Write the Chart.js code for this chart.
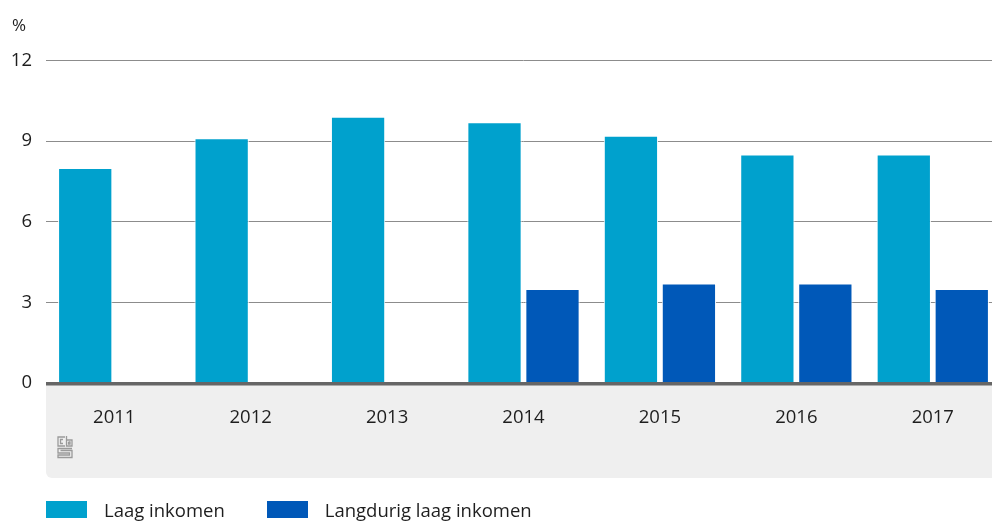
<!DOCTYPE html>
<html>
<head>
<meta charset="utf-8">
<script src="https://cdn.jsdelivr.net/npm/chart.js@4"></script>
<style>
    html, body { margin: 0; padding: 0; background: #fff; overflow: hidden; }
    #wrap { position: relative; width: 1002px; height: 521px; }
    #legend { position: absolute; left: 46px; top: 501px; display: flex; font: 18.5px "Open Sans", sans-serif; color: #1e1e1e; }
    #legend .item { display: flex; align-items: center; margin-right: 42px; }
    #legend .box { width: 41px; height: 17px; margin-right: 17px; }
    #legend span.txt { line-height: 17px; }
</style>
</head>
<body>
<div id="wrap">
    <canvas id="chart" width="1002" height="521"></canvas>
    <div id="legend"></div>
</div>
<script>
const years = ["2011", "2012", "2013", "2014", "2015", "2016", "2017"];
const laagInkomen = [8.0, 9.1, 9.9, 9.7, 9.2, 8.5, 8.5];
const langdurigLaagInkomen = [null, null, null, 3.5, 3.7, 3.7, 3.5];
const seriesNames = ["Laag inkomen", "Langdurig laag inkomen"];
const seriesColors = ["#00a1cd", "#0058b8"];
const yTicks = [0, 3, 6, 9, 12];

const fontFamily = '"Open Sans", sans-serif';
const fontSize = 18.5;

// small cbs mark, drawn as line paths relative to its top-left corner
function drawLogo(ctx, x, y) {
    const paths = [
        [[8, 1], [1, 1], [1, 10], [8, 10]],
        [[6, 3.5], [3.5, 3.5], [3.5, 7.5], [6, 7.5]],
        [[9.5, 0], [9.5, 10], [15, 10], [15, 4], [9.5, 4]],
        [[11.5, 6], [13, 6], [13, 8], [11.5, 8], [11.5, 6]],
        [[15, 12.5], [1, 12.5], [1, 17], [12.5, 17], [12.5, 19], [1, 19], [1, 21.5], [15, 21.5], [15, 14.5], [3.5, 14.5]]
    ];
    ctx.save();
    ctx.strokeStyle = "#9a9a9a";
    ctx.lineWidth = 1.3;
    paths.forEach(p => {
        ctx.beginPath();
        p.forEach((pt, i) => {
            if (i === 0) ctx.moveTo(x + pt[0], y + pt[1]);
            else ctx.lineTo(x + pt[0], y + pt[1]);
        });
        ctx.stroke();
    });
    ctx.restore();
}

// grey band under the x axis and the dark zero line
const bandPlugin = {
    id: "band",
    beforeDraw(chart) {
        const ctx = chart.ctx;
        const area = chart.chartArea;
        const xScale = chart.scales.x;
        ctx.save();
        ctx.fillStyle = "#efefef";
        ctx.beginPath();
        ctx.roundRect(area.left, area.bottom, chart.width - area.left, xScale.bottom - area.bottom + 1, [0, 0, 0, 6]);
        ctx.fill();
        ctx.restore();
        drawLogo(ctx, area.left + 11, area.bottom + 53);
    },
    afterDatasetsDraw(chart) {
        const ctx = chart.ctx;
        const area = chart.chartArea;
        const y0 = chart.scales.y.getPixelForValue(0);
        ctx.save();
        ctx.fillStyle = "#666666";
        ctx.fillRect(area.left, y0 - 1, chart.width - area.left, 3.5);
        ctx.restore();
    }
};

const ctx = document.getElementById("chart").getContext("2d");

new Chart(ctx, {
    type: "bar",
    data: {
        labels: years,
        datasets: [
            {
                label: seriesNames[0],
                data: laagInkomen,
                backgroundColor: seriesColors[0],
                borderColor: "#ffffff",
                borderWidth: 1,
                borderSkipped: "start"
            },
            {
                label: seriesNames[1],
                data: langdurigLaagInkomen,
                backgroundColor: seriesColors[1],
                borderColor: "#ffffff",
                borderWidth: 1,
                borderSkipped: "start"
            }
        ]
    },
    options: {
        responsive: false,
        animation: false,
        layout: { padding: { left: 12, right: 1, bottom: 44, top: 0 } },
        datasets: {
            bar: { categoryPercentage: 0.85, barPercentage: 0.936 }
        },
        plugins: {
            legend: { display: false },
            tooltip: { enabled: false },
            title: {
                display: true,
                text: "%",
                align: "start",
                color: "#1e1e1e",
                font: { family: fontFamily, size: 17, weight: "normal" },
                padding: { top: 16, bottom: 24 }
            }
        },
        scales: {
            x: {
                grid: { display: false, drawTicks: false },
                border: { display: false },
                ticks: {
                    color: "#1e1e1e",
                    font: { family: fontFamily, size: fontSize },
                    padding: 24,
                    maxRotation: 0
                },
                afterFit(scale) { scale.height = 94; }
            },
            y: {
                min: 0,
                max: 12,
                afterBuildTicks(scale) {
                    scale.ticks = yTicks.map(v => ({ value: v }));
                },
                grid: {
                    drawTicks: false,
                    color: ctx => ctx.tick && ctx.tick.value === 0 ? "rgba(0,0,0,0)" : "#8c8c8c",
                    lineWidth: 1
                },
                border: { display: false },
                ticks: {
                    color: "#1e1e1e",
                    font: { family: fontFamily, size: fontSize },
                    padding: 14
                },
                afterFit(scale) { scale.width = 34; }
            }
        }
    },
    plugins: [bandPlugin]
});

// simple html legend
const legend = document.getElementById("legend");
seriesNames.forEach((name, i) => {
    legend.innerHTML += `<div class="item"><div class="box" style="background:${seriesColors[i]}"></div><span class="txt">${name}</span></div>`;
});
</script>
</body>
</html>
